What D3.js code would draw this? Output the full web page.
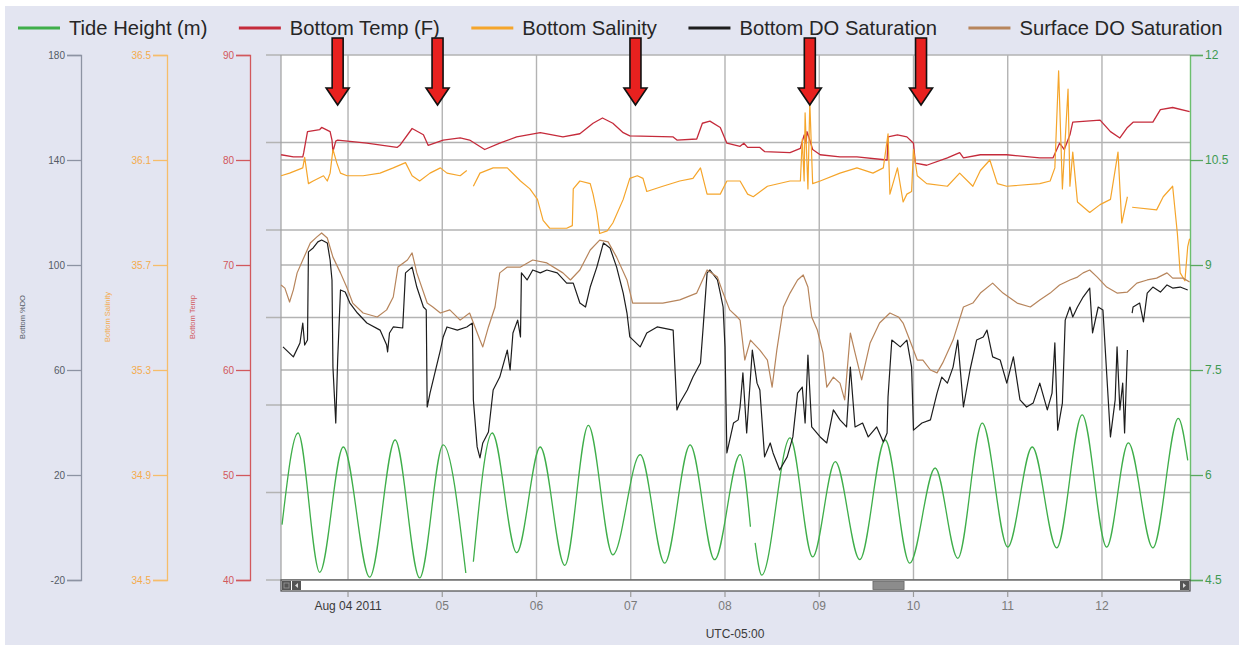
<!DOCTYPE html>
<html>
<head>
<meta charset="utf-8">
<script src="https://cdn.jsdelivr.net/npm/d3@7"></script>
<style>
  body { margin: 0; background: #ffffff; }
  svg { display: block; font-family: "Liberation Sans", Arial, sans-serif; }
</style>
</head>
<body>
<svg id="chart" width="1239" height="645"></svg>
<script>
// ---- time range (local time, UTC-05:00) ----
const startTime = "2011-08-03T06:56:00Z";
const endTime   = "2011-08-12T22:25:00Z";
const dayTicks  = ["2011-08-04","2011-08-05","2011-08-06","2011-08-07","2011-08-08","2011-08-09","2011-08-10","2011-08-11","2011-08-12"];
const dayLabels = ["Aug 04 2011","05","06","07","08","09","10","11","12"];

// ---- axis ticks ----
const doTicks   = [-20, 20, 60, 100, 140, 180];
const salTicks  = [34.5, 34.9, 35.3, 35.7, 36.1, 36.5];
const tempTicks = [40, 50, 60, 70, 80, 90];
const tideTicks = [4.5, 6, 7.5, 9, 10.5, 12];

// ---- legend ----
const seriesNames  = ["Tide Height (m)", "Bottom Temp (F)", "Bottom Salinity", "Bottom DO Saturation", "Surface DO Saturation"];
const seriesColors = ["#3fae4a", "#c52b3b", "#f5a52b", "#1d1d1d", "#b7855c"];

// ---- series: [day of August 2011 (decimal), value]; null marks a logging gap ----
const tide = [[3.30,5.29],[3.47,6.60],[3.70,4.61],[3.95,6.40],[4.23,4.54],[4.50,6.50],[4.76,4.53],[5.01,6.43],[5.25,4.60],[5.29,null],
  [5.33,4.76],[5.53,6.60],[5.79,4.89],[6.04,6.40],[6.30,4.71],[6.55,6.71],[6.81,4.86],[7.10,6.29],[7.36,4.74],[7.63,6.43],[7.89,4.79],[8.16,6.29],[8.27,5.26],[8.30,null],
  [8.32,5.03],[8.39,4.57],[8.69,6.53],[8.93,4.83],[9.17,6.19],[9.43,4.79],[9.70,6.50],[9.96,4.74],[10.23,6.10],[10.47,4.81],[10.73,6.74],[11.00,4.97],
  [11.26,6.40],[11.52,4.96],[11.79,6.86],[12.05,4.97],[12.28,6.46],[12.54,4.96],[12.81,6.81],[12.91,6.21]];

const bottomTemp = [[3.29,80.5],[3.42,80.3],[3.52,80.3],[3.53,80.7],[3.57,82.7],[3.70,82.9],[3.72,83.1],[3.81,82.7],[3.83,81.9],[3.84,80.8],[3.87,81.8],[3.89,81.9],
  [4.20,81.6],[4.52,81.2],[4.55,81.4],[4.68,83.0],[4.80,82.4],[4.85,81.4],[5.01,81.9],[5.19,82.1],[5.29,81.9],[5.45,81.0],[5.61,81.6],[5.79,82.2],[6.04,82.6],
  [6.28,82.2],[6.46,82.5],[6.60,83.5],[6.70,84.0],[6.81,83.5],[6.92,82.6],[6.99,82.3],[7.45,82.2],[7.49,81.9],[7.70,82.0],[7.76,83.5],[7.84,83.7],[7.95,83.1],
  [8.02,81.6],[8.16,81.3],[8.20,81.6],[8.24,81.2],[8.37,81.2],[8.42,80.8],[8.69,80.7],[8.80,81.1],[8.84,82.4],[8.86,81.6],[8.87,82.7],[8.90,81.9],[8.93,81.0],
  [9.01,80.5],[9.22,80.3],[9.40,80.3],[9.72,80.0],[9.73,82.2],[9.83,82.4],[9.93,82.2],[10.00,81.6],[10.02,79.7],[10.14,79.5],[10.36,80.2],[10.49,80.7],[10.53,80.2],
  [10.71,80.5],[10.99,80.5],[11.34,80.2],[11.48,80.2],[11.55,81.6],[11.60,81.0],[11.66,82.4],[11.69,83.6],[11.98,83.8],[12.09,82.7],[12.19,82.1],[12.27,83.1],
  [12.33,83.6],[12.54,83.6],[12.62,84.8],[12.75,85.0],[12.93,84.6]];

const bottomSalinity = [[3.29,36.04],[3.38,36.05],[3.52,36.07],[3.54,36.11],[3.58,36.01],[3.63,36.02],[3.74,36.04],[3.78,36.02],[3.81,36.05],[3.84,36.14],[3.88,36.09],
  [3.92,36.05],[3.99,36.04],[4.16,36.04],[4.34,36.05],[4.48,36.07],[4.61,36.09],[4.68,36.04],[4.76,36.02],[4.87,36.05],[4.98,36.07],[5.05,36.05],[5.19,36.04],
  [5.26,36.06],[5.30,null],[5.33,36.00],[5.40,36.05],[5.54,36.07],[5.69,36.07],[5.83,36.02],[5.93,35.99],[6.01,35.95],[6.07,35.87],[6.14,35.84],[6.32,35.84],
  [6.38,35.85],[6.39,35.99],[6.46,36.02],[6.57,36.01],[6.60,35.97],[6.64,35.90],[6.67,35.82],[6.75,35.83],[6.81,35.86],[6.92,35.95],[6.99,36.03],[7.07,36.04],
  [7.13,36.03],[7.17,35.98],[7.34,36.00],[7.52,36.02],[7.66,36.03],[7.74,36.07],[7.81,35.97],[7.95,35.97],[8.02,36.02],[8.16,36.02],[8.24,35.97],[8.30,35.96],
  [8.45,36.00],[8.69,36.02],[8.80,36.02],[8.82,36.18],[8.84,36.02],[8.85,36.28],[8.88,35.99],[8.90,36.32],[8.93,36.01],[9.01,36.02],[9.22,36.05],[9.40,36.07],
  [9.57,36.05],[9.68,36.07],[9.73,36.20],[9.75,35.97],[9.83,36.07],[9.89,35.94],[9.93,35.97],[9.98,35.98],[10.00,36.14],[10.04,36.04],[10.14,36.01],[10.36,36.00],
  [10.49,36.05],[10.63,36.00],[10.71,36.06],[10.81,36.10],[10.89,36.01],[10.99,36.00],[11.34,36.01],[11.45,36.02],[11.50,36.07],[11.54,36.44],[11.58,35.99],
  [11.64,36.37],[11.66,36.00],[11.69,36.13],[11.74,35.94],[11.87,35.90],[11.98,35.93],[12.09,35.95],[12.17,36.13],[12.21,35.86],[12.27,35.96],[12.30,null],
  [12.32,35.92],[12.58,35.91],[12.65,35.96],[12.75,36.00],[12.80,35.82],[12.83,35.67],[12.88,35.64],[12.91,35.77],[12.93,35.80]];

const bottomDO = [[3.31,68.8],[3.42,65.0],[3.49,70.3],[3.52,77.9],[3.54,69.5],[3.57,71.4],[3.58,105.0],[3.63,106.5],[3.68,108.8],[3.72,109.5],[3.78,108.4],
  [3.81,101.9],[3.83,94.3],[3.84,61.1],[3.87,39.8],[3.89,63.8],[3.92,90.5],[3.97,89.7],[4.02,85.5],[4.10,81.7],[4.20,77.9],[4.34,75.2],[4.41,69.5],[4.42,66.9],
  [4.44,74.1],[4.48,76.4],[4.58,76.0],[4.61,97.0],[4.68,99.2],[4.73,91.6],[4.80,84.0],[4.83,82.9],[4.84,45.9],[4.87,51.2],[4.98,67.6],[5.01,72.6],[5.05,76.4],
  [5.16,75.2],[5.26,76.4],[5.32,77.9],[5.33,48.6],[5.37,30.7],[5.40,26.5],[5.43,32.2],[5.49,36.4],[5.54,52.4],[5.61,57.3],[5.69,67.6],[5.72,60.0],[5.75,74.1],
  [5.80,79.0],[5.83,72.6],[5.84,97.0],[5.90,94.3],[5.96,98.1],[6.04,97.0],[6.11,98.1],[6.22,97.0],[6.32,93.1],[6.39,93.1],[6.46,85.5],[6.52,84.0],[6.57,91.6],
  [6.64,99.2],[6.71,108.4],[6.78,106.5],[6.85,99.2],[6.92,89.3],[6.96,81.7],[6.99,72.6],[7.10,68.8],[7.17,74.1],[7.28,76.4],[7.45,75.2],[7.49,44.8],[7.52,47.4],
  [7.60,52.4],[7.66,57.3],[7.74,62.7],[7.77,77.1],[7.81,97.0],[7.84,98.1],[7.92,94.3],[7.95,89.3],[7.98,84.0],[8.00,68.8],[8.02,28.4],[8.09,39.8],[8.14,41.0],
  [8.16,45.9],[8.19,58.9],[8.23,36.0],[8.29,67.6],[8.34,55.0],[8.37,52.4],[8.42,26.9],[8.48,32.2],[8.51,28.4],[8.58,21.9],[8.66,26.9],[8.72,34.5],[8.77,51.2],
  [8.82,53.5],[8.85,39.8],[8.88,65.7],[8.92,38.3],[9.01,34.5],[9.08,32.2],[9.15,44.8],[9.22,41.0],[9.29,38.3],[9.33,61.1],[9.38,38.3],[9.46,39.8],[9.52,34.5],
  [9.61,38.3],[9.68,32.6],[9.72,36.0],[9.73,49.7],[9.77,71.4],[9.86,68.8],[9.93,71.4],[9.98,61.1],[10.00,37.1],[10.09,39.8],[10.18,41.0],[10.25,51.2],[10.30,57.3],
  [10.36,55.0],[10.42,61.1],[10.47,71.4],[10.53,45.9],[10.60,60.0],[10.67,71.4],[10.74,72.6],[10.78,75.2],[10.84,65.0],[10.92,63.8],[10.99,55.0],[11.06,65.0],
  [11.13,48.6],[11.20,45.9],[11.27,47.4],[11.34,55.0],[11.42,44.8],[11.47,51.2],[11.50,70.3],[11.53,37.1],[11.58,47.4],[11.61,79.0],[11.66,84.0],[11.69,80.2],
  [11.74,84.0],[11.80,87.8],[11.87,91.2],[11.90,74.1],[11.96,84.0],[12.01,82.9],[12.09,34.5],[12.14,48.6],[12.16,68.8],[12.19,44.8],[12.22,55.0],[12.24,36.0],
  [12.27,67.6],[12.30,null],[12.32,81.7],[12.33,84.0],[12.40,85.5],[12.44,78.3],[12.48,89.3],[12.54,91.6],[12.62,89.7],[12.69,92.4],[12.75,91.2],[12.83,91.6],[12.91,90.5]];

const surfaceDO = [[3.29,92.4],[3.33,91.2],[3.38,85.9],[3.42,90.5],[3.46,97.0],[3.52,101.9],[3.60,108.4],[3.67,110.7],[3.72,112.2],[3.78,110.3],[3.84,103.0],
  [3.92,97.0],[3.99,91.2],[4.05,85.5],[4.16,81.7],[4.31,80.2],[4.41,82.9],[4.48,87.8],[4.53,99.2],[4.63,101.9],[4.68,104.6],[4.73,97.0],[4.84,85.5],[4.90,84.0],
  [4.98,81.7],[5.08,82.9],[5.19,79.0],[5.29,81.7],[5.40,71.4],[5.43,68.8],[5.49,76.4],[5.56,84.0],[5.61,97.0],[5.69,99.2],[5.83,99.2],[5.96,101.9],[6.11,100.8],
  [6.28,97.0],[6.36,94.3],[6.46,98.1],[6.57,105.7],[6.67,109.5],[6.76,108.8],[6.85,103.0],[6.96,94.3],[7.02,85.5],[7.10,85.5],[7.17,85.5],[7.34,85.5],[7.52,86.7],
  [7.70,89.3],[7.81,98.1],[7.92,95.4],[7.98,89.3],[8.05,82.9],[8.13,80.2],[8.16,79.0],[8.21,63.8],[8.27,71.4],[8.37,67.6],[8.45,63.8],[8.50,53.5],[8.55,67.6],
  [8.62,84.0],[8.69,89.3],[8.77,94.3],[8.83,96.2],[8.88,91.6],[8.92,80.2],[8.98,75.2],[9.04,66.5],[9.08,53.5],[9.15,57.3],[9.22,55.0],[9.27,48.6],[9.33,74.1],
  [9.38,66.5],[9.45,56.2],[9.54,70.3],[9.64,77.9],[9.75,81.7],[9.84,80.2],[9.89,77.9],[9.96,71.4],[10.04,63.8],[10.10,63.8],[10.18,60.0],[10.25,58.9],[10.31,62.7],
  [10.42,71.4],[10.53,84.0],[10.63,85.5],[10.71,89.3],[10.84,93.1],[10.95,89.3],[11.10,85.5],[11.24,84.0],[11.34,86.7],[11.45,89.3],[11.55,92.4],[11.66,94.3],
  [11.74,95.4],[11.80,97.0],[11.87,98.1],[11.95,95.4],[12.05,91.6],[12.16,89.3],[12.27,89.7],[12.37,93.1],[12.48,94.3],[12.58,95.0],[12.69,97.0],[12.75,95.0],
  [12.86,95.0],[12.93,93.5]];

// marked events (day of August)
const eventDays = [3.89, 4.95, 7.05, 8.90, 10.08];
// visible window of the range navigator (day of August)
const navigatorWindow = [9.57, 9.90];

// ---- helpers ----
const toDate = d => new Date(Date.UTC(2011, 7, 1) + (d - 1) * 864e5);
const plainNumber = d => String(d);   // keeps an ASCII hyphen for negatives

const svg = d3.select("#chart");
const W = 1239, H = 645;
const plot = { left: 281, right: 1190, top: 55, bottom: 580 };

// backgrounds
svg.append("rect").attr("width", W).attr("height", H).attr("fill", "#ffffff");
svg.append("rect").attr("x", 5).attr("y", 6).attr("width", W - 5).attr("height", H - 6).attr("fill", "#e3e5f1");
svg.append("rect").attr("x", plot.left).attr("y", plot.top)
  .attr("width", plot.right - plot.left).attr("height", plot.bottom - plot.top).attr("fill", "#ffffff");

// ---- scales ----
const x = d3.scaleUtc().domain([new Date(startTime), new Date(endTime)]).range([plot.left, plot.right]);
const yDO   = d3.scaleLinear().domain([-20, 180]).range([plot.bottom, plot.top]);
const ySal  = d3.scaleLinear().domain([34.5, 36.5]).range([plot.bottom, plot.top]);
const yTemp = d3.scaleLinear().domain([40, 90]).range([plot.bottom, plot.top]);
const yTide = d3.scaleLinear().domain([4.5, 12]).range([plot.bottom, plot.top]);
// secondary grid (six equal bands)
const yBand = d3.scaleLinear().domain([0, 6]).range([plot.bottom, plot.top]);

// ---- grid ----
const grid = svg.append("g").attr("stroke", "#b3b3b3").attr("stroke-width", 1.4);
grid.selectAll(".hb").data(d3.range(0, 7)).join("line")
  .attr("x1", 266).attr("x2", plot.right)
  .attr("y1", d => yBand(d)).attr("y2", d => yBand(d));
grid.selectAll(".ht").data(tempTicks.slice(1, -1)).join("line")
  .attr("x1", plot.left).attr("x2", plot.right)
  .attr("y1", d => yTemp(d)).attr("y2", d => yTemp(d));
grid.selectAll(".v").data(dayTicks).join("line")
  .attr("x1", d => x(new Date(d + "T00:00:00Z"))).attr("x2", d => x(new Date(d + "T00:00:00Z")))
  .attr("y1", plot.top).attr("y2", plot.bottom);
svg.append("line").attr("x1", plot.left).attr("x2", plot.left).attr("y1", plot.top).attr("y2", plot.bottom)
  .attr("stroke", "#a0a0a0").attr("stroke-width", 1.2);

// ---- left axes ----
function leftAxis(scale, ticks, xPos, color, labelColor, title, titleX, fmt) {
  const g = svg.append("g").attr("transform", `translate(${xPos},0)`)
    .call(d3.axisLeft(scale).tickValues(ticks).tickSize(14).tickPadding(2).tickFormat(fmt));
  g.select(".domain").attr("stroke", color).attr("stroke-width", 1.3);
  g.selectAll(".tick line").attr("stroke", color).attr("stroke-width", 1.3);
  g.selectAll(".tick text").attr("fill", labelColor).style("font-size", "10px")
    .style("font-family", "'Liberation Sans', Arial, sans-serif");
  svg.append("text").attr("transform", `translate(${titleX},317) rotate(-90)`)
    .attr("text-anchor", "middle").attr("dy", "0.35em")
    .style("font-size", "7.5px").attr("fill", labelColor).text(title);
}
leftAxis(yDO, doTicks, 81, "#8d93a3", "#555b66", "Bottom %DO", 22, plainNumber);
leftAxis(ySal, salTicks, 167, "#f6bd6a", "#f4ab4c", "Bottom Salinity", 107, d3.format(".1f"));
leftAxis(yTemp, tempTicks, 250, "#d2585c", "#d2585c", "Bottom Temp", 192, plainNumber);

// ---- right axis (tide) ----
{
  const g = svg.append("g").attr("transform", `translate(${plot.right},0)`)
    .call(d3.axisRight(yTide).tickValues(tideTicks).tickSize(13).tickPadding(2).tickFormat(plainNumber));
  g.select(".domain").attr("stroke", "#6cbf6e").attr("stroke-width", 1.4);
  g.selectAll(".tick line").attr("stroke", "#5aa860").attr("stroke-width", 1.3);
  g.selectAll(".tick text").attr("fill", "#3f9a52").style("font-size", "12px")
    .style("font-family", "'Liberation Sans', Arial, sans-serif");
}

// ---- series ----
const layer = svg.append("g");
function drawSeries(data, yScale, color, width, curve) {
  layer.append("path").datum(data)
    .attr("fill", "none").attr("stroke", color).attr("stroke-width", width)
    .attr("stroke-linejoin", "round")
    .attr("d", d3.line().defined(d => d[1] != null)
      .x(d => x(toDate(d[0]))).y(d => yScale(d[1])).curve(curve || d3.curveLinear));
}
drawSeries(tide, yTide, seriesColors[0], 1.3, d3.curveMonotoneX);
drawSeries(bottomTemp, yTemp, seriesColors[1], 1.3);
drawSeries(bottomSalinity, ySal, seriesColors[2], 1.2);
drawSeries(bottomDO, yDO, seriesColors[3], 1.2);
drawSeries(surfaceDO, yDO, seriesColors[4], 1.2);

// ---- range navigator strip ----
const nav = svg.append("g");
nav.append("rect").attr("x", plot.left).attr("y", plot.bottom).attr("width", plot.right - plot.left).attr("height", 11)
  .attr("fill", "#ffffff").attr("stroke", "#4a4a4a").attr("stroke-width", 1.2);
nav.append("rect").attr("x", plot.left + 1).attr("y", plot.bottom + 1).attr("width", 9).attr("height", 9).attr("fill", "#555");
nav.append("rect").attr("x", plot.left + 3).attr("y", plot.bottom + 3).attr("width", 5).attr("height", 5).attr("fill", "none").attr("stroke", "#999").attr("stroke-width", 0.8);
nav.append("rect").attr("x", plot.left + 11).attr("y", plot.bottom + 1).attr("width", 9).attr("height", 9).attr("fill", "#555");
nav.append("path").attr("d", `M${plot.left + 14},${plot.bottom + 5.5}l3,-2.5v5z`).attr("fill", "#ddd");
nav.append("rect").attr("x", plot.right - 10).attr("y", plot.bottom + 1).attr("width", 9).attr("height", 9).attr("fill", "#555");
nav.append("path").attr("d", `M${plot.right - 4},${plot.bottom + 5.5}l-3,-2.5v5z`).attr("fill", "#ddd");
nav.append("rect")
  .attr("x", x(toDate(navigatorWindow[0]))).attr("y", plot.bottom + 1.5)
  .attr("width", x(toDate(navigatorWindow[1])) - x(toDate(navigatorWindow[0]))).attr("height", 8)
  .attr("fill", "#8c8c8c").attr("stroke", "#666").attr("stroke-width", 0.8);

// ---- bottom time axis ----
const tAxis = svg.append("g");
dayTicks.forEach((d, i) => {
  const px = x(new Date(d + "T00:00:00Z"));
  tAxis.append("line").attr("x1", px).attr("x2", px).attr("y1", 592).attr("y2", 597)
    .attr("stroke", "#9a9a9a").attr("stroke-width", 1.2);
  tAxis.append("text").attr("x", px).attr("y", 610).attr("text-anchor", "middle")
    .style("font-size", "12px").attr("fill", i === 0 ? "#3a3a3a" : "#7a7a7a").text(dayLabels[i]);
});
svg.append("text").attr("x", 735).attr("y", 638).attr("text-anchor", "middle")
  .style("font-size", "12px").attr("fill", "#3a3a3a").text("UTC-05:00");

// ---- event arrows ----
const arrows = svg.append("g");
eventDays.forEach(d => {
  const cx = x(toDate(d));
  const top = 38, neck = 88, tip = 105, sw = 5.5, hw = 11.5;
  arrows.append("path")
    .attr("d", `M${cx - sw},${top}H${cx + sw}V${neck}H${cx + hw}L${cx},${tip}L${cx - hw},${neck}H${cx - sw}Z`)
    .attr("fill", "#e8211f").attr("stroke", "#111").attr("stroke-width", 1.6).attr("stroke-linejoin", "miter");
});

// ---- legend ----
const legend = svg.append("g");
let lx = 18;
seriesNames.forEach((name, i) => {
  legend.append("line").attr("x1", lx).attr("x2", lx + 42).attr("y1", 28).attr("y2", 28)
    .attr("stroke", seriesColors[i]).attr("stroke-width", 3);
  const t = legend.append("text").attr("x", lx + 51).attr("y", 35)
    .style("font-size", "20.2px").attr("fill", "#262626").text(name);
  lx += 51 + t.node().getComputedTextLength() + 31.5;
});
</script>
</body>
</html>
